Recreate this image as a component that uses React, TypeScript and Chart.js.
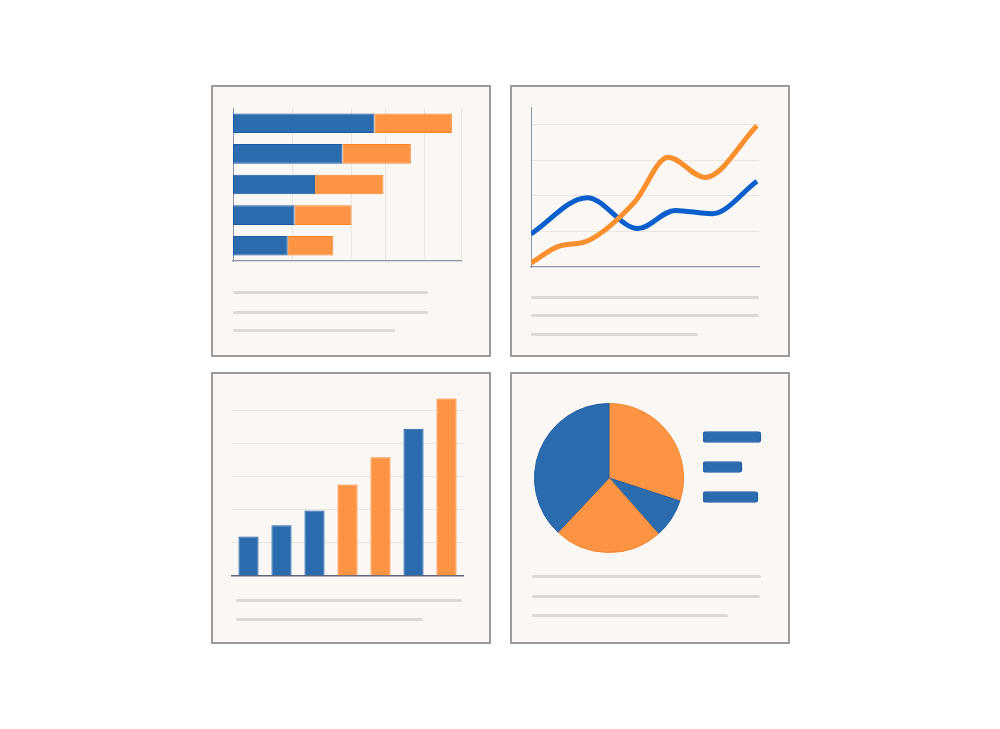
import { useEffect, useRef } from 'react';
import { Chart, registerables } from 'chart.js';

Chart.register(...registerables);

// panneau 1 : barres horizontales empilées
const hbarCategories = ['A', 'B', 'C', 'D', 'E'];
const hbarBlue = [62, 48, 36, 27, 24];
const hbarOrange = [34, 30, 30, 25, 20];
const hbarGridTicks = [26, 52, 67, 84, 100];

// panneau 2 : deux courbes
const lineBlueX = [0, 24.6, 46.9, 63.2, 79.4, 99.1];
const lineBlueY = [0.93, 1.95, 1.08, 1.59, 1.5, 2.41];
const lineOrangeX = [0, 12, 25, 45.6, 60.1, 76.3, 99.1];
const lineOrangeY = [0.11, 0.58, 0.74, 1.84, 3.09, 2.52, 3.97];
const lineGridTicks = [1, 2, 3, 4];

// panneau 3 : barres verticales
const vbarCategories = ['1', '2', '3', '4', '5', '6', '7'];
const vbarValues = [1.18, 1.52, 1.97, 2.76, 3.58, 4.45, 5.36];
const vbarSeries = ['blue', 'blue', 'blue', 'orange', 'orange', 'blue', 'orange'];
const vbarGridTicks = [1, 2, 3, 4, 5];

// panneau 4 : camembert + légende
const pieLabels = ['A', 'B', 'C', 'D'];
const pieValues = [30, 8.5, 23.5, 38];
const pieSeries = ['orange', 'blue', 'orange', 'blue'];
const legendLabels = ['a', 'b', 'c'];
const legendValues = [58, 39, 55];

const BLUE = '#2a6cad';
const BLUE_EDGE = '#1c5ca6';
const ORANGE = '#fd9443';
const ORANGE_EDGE = '#f7852b';
const LINE_BLUE = '#0a5fcd';
const LINE_ORANGE = '#fa8f2e';
const GRID = '#e9e5e1';
const AXIS = '#8d94a6';
const TEXT_LINE = '#dcd9d6';

const fill = (s: string) => (s === 'blue' ? BLUE : ORANGE);
const edge = (s: string) => (s === 'blue' ? BLUE_EDGE : ORANGE_EDGE);

function ChartBox({ left, top, width, height, pad = 4, build }: {
  left: number; top: number; width: number; height: number; pad?: number; build: () => any;
}) {
  const ref = useRef<HTMLCanvasElement>(null);

  useEffect(() => {
    if (!ref.current) return;
    const cfg = build();
    cfg.options = {
      responsive: true,
      maintainAspectRatio: false,
      animation: false,
      events: [],
      ...cfg.options,
      layout: { padding: pad },
      plugins: { legend: { display: false }, tooltip: { enabled: false } },
    };
    const chart = new Chart(ref.current, cfg);
    return () => chart.destroy();
  }, []);

  return (
    <div style={{ position: 'absolute', left: left - pad, top: top - pad, width: width + 2 * pad, height: height + 2 * pad }}>
      <canvas ref={ref} />
    </div>
  );
}

function Panel({ left, top }: { left: number; top: number }) {
  return (
    <div style={{
      position: 'absolute', left, top, width: 280, height: 272, boxSizing: 'border-box',
      border: '2px solid #9b9b9b', background: '#faf7f4',
    }} />
  );
}

function TextLine({ left, y, width }: { left: number; y: number; width: number }) {
  return (
    <div style={{ position: 'absolute', left, top: y - 1.5, width, height: 3, borderRadius: 1.5, background: TEXT_LINE }} />
  );
}

const hidden = { display: false };

function hbarConfig() {
  return {
    type: 'bar',
    data: {
      labels: hbarCategories,
      datasets: [
        { data: hbarBlue, backgroundColor: BLUE, borderColor: BLUE_EDGE, borderWidth: 1, borderSkipped: false },
        { data: hbarOrange, backgroundColor: ORANGE, borderColor: ORANGE_EDGE, borderWidth: 1, borderSkipped: false },
      ],
    },
    options: {
      indexAxis: 'y',
      datasets: { bar: { categoryPercentage: 1, barPercentage: 0.64 } },
      scales: {
        x: {
          stacked: true, min: 0, max: 100,
          afterBuildTicks: (s: any) => { s.ticks = hbarGridTicks.map((v) => ({ value: v })); },
          ticks: hidden,
          grid: { color: GRID, drawTicks: false },
          border: { display: true, color: AXIS, width: 1.2 },
        },
        y: {
          stacked: true,
          ticks: hidden,
          grid: { display: false, drawTicks: false },
          border: { display: true, color: AXIS, width: 1 },
        },
      },
    },
  };
}

function lineConfig() {
  return {
    type: 'line',
    data: {
      datasets: [
        {
          data: lineOrangeX.map((x, i) => ({ x, y: lineOrangeY[i] })),
          borderColor: LINE_ORANGE, borderWidth: 5, pointRadius: 0,
          cubicInterpolationMode: 'monotone', fill: false,
        },
        {
          data: lineBlueX.map((x, i) => ({ x, y: lineBlueY[i] })),
          borderColor: LINE_BLUE, borderWidth: 5, pointRadius: 0,
          cubicInterpolationMode: 'monotone', fill: false,
        },
      ],
    },
    options: {
      scales: {
        x: {
          type: 'linear', min: 0, max: 100,
          ticks: hidden,
          grid: { display: false, drawTicks: false },
          border: { display: true, color: AXIS, width: 1.2 },
        },
        y: {
          min: 0, max: 4.5,
          afterBuildTicks: (s: any) => { s.ticks = lineGridTicks.map((v) => ({ value: v })); },
          ticks: hidden,
          grid: { color: GRID, drawTicks: false },
          border: { display: true, color: AXIS, width: 1 },
        },
      },
    },
  };
}

function vbarConfig() {
  return {
    type: 'bar',
    data: {
      labels: vbarCategories,
      datasets: [{
        data: vbarValues,
        backgroundColor: vbarSeries.map(fill),
        borderColor: vbarSeries.map(edge),
        borderWidth: 1,
        borderSkipped: 'bottom',
      }],
    },
    options: {
      datasets: { bar: { categoryPercentage: 1, barPercentage: 0.61 } },
      scales: {
        x: {
          ticks: hidden,
          grid: { display: false, drawTicks: false },
          border: { display: true, color: '#5e6679', width: 1.5 },
        },
        y: {
          min: 0, max: 5.5,
          afterBuildTicks: (s: any) => { s.ticks = vbarGridTicks.map((v) => ({ value: v })); },
          ticks: hidden,
          grid: { color: GRID, drawTicks: false },
          border: { display: false },
        },
      },
    },
  };
}

function pieConfig() {
  return {
    type: 'pie',
    data: {
      labels: pieLabels,
      datasets: [{
        data: pieValues,
        backgroundColor: pieSeries.map(fill),
        borderColor: pieSeries.map(edge),
        borderWidth: 1,
      }],
    },
    options: {},
  };
}

function legendConfig() {
  return {
    type: 'bar',
    data: {
      labels: legendLabels,
      datasets: [{
        data: legendValues,
        backgroundColor: BLUE, borderColor: BLUE_EDGE, borderWidth: 1,
        borderRadius: 3, borderSkipped: false,
        barThickness: 11,
      }],
    },
    options: {
      indexAxis: 'y',
      scales: {
        x: { display: false, min: 0, max: 60 },
        y: { display: false },
      },
    },
  };
}

export default function App() {
  return (
    <div style={{ position: 'absolute', left: 0, top: 0, width: 1000, height: 729, background: '#ffffff', overflow: 'hidden' }}>
      <Panel left={211} top={85} />
      <Panel left={510} top={85} />
      <Panel left={211} top={372} />
      <Panel left={510} top={372} />

      <ChartBox left={233} top={108} width={228} height={153} build={hbarConfig} />
      <TextLine left={233} y={292} width={195} />
      <TextLine left={233} y={312} width={195} />
      <TextLine left={233} y={330} width={162} />

      <ChartBox left={531} top={107} width={228} height={160} build={lineConfig} />
      <TextLine left={531} y={297} width={228} />
      <TextLine left={531} y={315} width={228} />
      <TextLine left={531} y={334} width={167} />

      <ChartBox left={232} top={393.5} width={231} height={181.5} build={vbarConfig} />
      <TextLine left={236} y={600} width={226} />
      <TextLine left={236} y={619} width={187} />

      <ChartBox left={534} top={403} width={150} height={150} pad={2} build={pieConfig} />
      <ChartBox left={703} top={422} width={60} height={90} pad={2} build={legendConfig} />
      <TextLine left={532} y={576} width={229} />
      <TextLine left={532} y={596} width={228} />
      <TextLine left={532} y={615} width={196} />
    </div>
  );
}
